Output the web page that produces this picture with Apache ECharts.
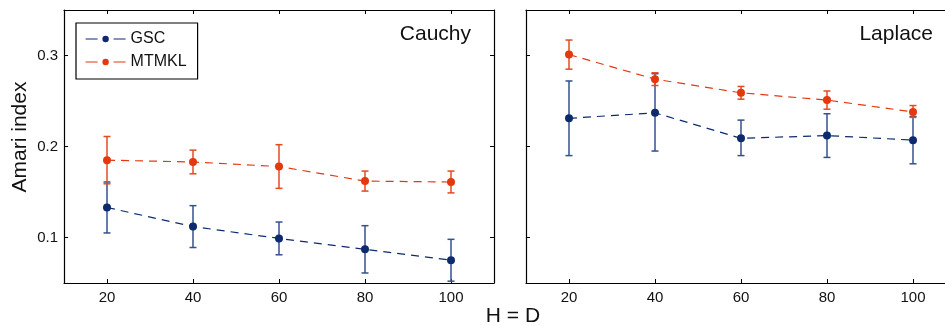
<!DOCTYPE html>
<html>
<head>
<meta charset="utf-8">
<script src="https://cdn.jsdelivr.net/npm/echarts@6/dist/echarts.min.js"></script>
<style>html,body{margin:0;padding:0;background:#fff}#c{width:945px;height:326px}</style>
</head>
<body>
<div id="c"></div>
<script>
const xValues = [20, 40, 60, 80, 100];
const yTicks = [0.1, 0.2, 0.3];
const panelTitles = ['Cauchy', 'Laplace'];
const seriesNames = ['GSC', 'MTMKL'];
const yAxisTitle = 'Amari index';
const xAxisTitle = 'H = D';

// Cauchy
const cauchyGSC = [0.133, 0.112, 0.099, 0.087, 0.075];
const cauchyGSCLow = [0.105, 0.089, 0.081, 0.061, 0.052];
const cauchyGSCHigh = [0.161, 0.135, 0.117, 0.113, 0.098];
const cauchyMTMKL = [0.185, 0.183, 0.178, 0.162, 0.161];
const cauchyMTMKLLow = [0.159, 0.170, 0.154, 0.151, 0.149];
const cauchyMTMKLHigh = [0.211, 0.196, 0.202, 0.173, 0.173];

// Laplace
const laplaceGSC = [0.231, 0.237, 0.209, 0.212, 0.207];
const laplaceGSCLow = [0.190, 0.195, 0.190, 0.188, 0.181];
const laplaceGSCHigh = [0.272, 0.280, 0.229, 0.236, 0.233];
const laplaceMTMKL = [0.301, 0.274, 0.259, 0.251, 0.238];
const laplaceMTMKLLow = [0.285, 0.267, 0.252, 0.241, 0.232];
const laplaceMTMKLHigh = [0.317, 0.281, 0.266, 0.261, 0.245];

const BLUE = '#0d2a6e';
const BLUE_BAR = '#34508f';
const RED = '#e4380e';
const RED_BAR = '#e34b22';
const FONT = 'Liberation Sans';

const chart = echarts.init(document.getElementById('c'));

const grids = [
  {left: 64, top: 10, width: 430, height: 273, outerBoundsMode: 'none', containLabel: false},
  {left: 526, top: 10, width: 430, height: 273, outerBoundsMode: 'none', containLabel: false}
];

function xAx(gi, pos) {
  const bottom = pos === 'bottom';
  return {
    type: 'value', gridIndex: gi, position: pos, min: 10, max: 110, interval: 20,
    axisLine: {show: true, onZero: false, lineStyle: {color: '#000', width: 1.2}},
    axisTick: {show: true, inside: true, length: 4, lineStyle: {color: '#000'},
      customValues: xValues},
    axisLabel: {show: bottom, color: '#111', fontSize: 15, fontFamily: FONT, margin: 7,
      customValues: xValues},
    splitLine: {show: false}
  };
}
function yAx(gi, pos, labels) {
  return {
    type: 'value', gridIndex: gi, position: pos, min: 0.05, max: 0.35,
    axisLine: {show: true, onZero: false, lineStyle: {color: '#000', width: 1.2}},
    axisTick: {show: true, inside: true, length: 4, lineStyle: {color: '#000'},
      customValues: yTicks},
    axisLabel: {show: labels, color: '#111', fontSize: 15, fontFamily: FONT, margin: 6,
      customValues: yTicks, formatter: v => v.toFixed(1)},
    splitLine: {show: false}
  };
}

const xAxes = [xAx(0, 'bottom'), xAx(0, 'top'), xAx(1, 'bottom'), xAx(1, 'top')];
const yAxes = [yAx(0, 'left', true), yAx(0, 'right', false), yAx(1, 'left', false), yAx(1, 'right', false)];

function lineSeries(name, vals, color, xi, yi) {
  return {
    type: 'line', name: name, xAxisIndex: xi, yAxisIndex: yi,
    data: xValues.map((x, i) => [x, vals[i]]),
    symbol: 'circle', symbolSize: 8,
    lineStyle: {color: color, width: 1.2, type: [8, 6]},
    itemStyle: {color: color},
    z: 3
  };
}
function errSeries(name, low, high, color, xi, yi) {
  return {
    type: 'custom', name: name + '_err', xAxisIndex: xi, yAxisIndex: yi,
    data: xValues.map((x, i) => [x, low[i], high[i]]),
    renderItem: function (params, api) {
      const p1 = api.coord([api.value(0), api.value(1)]);
      const p2 = api.coord([api.value(0), api.value(2)]);
      const w = 3.5;
      const st = {stroke: color, lineWidth: 1.5};
      return {type: 'group', children: [
        {type: 'line', shape: {x1: p1[0], y1: p1[1], x2: p2[0], y2: p2[1]}, style: st},
        {type: 'line', shape: {x1: p1[0] - w, y1: p1[1], x2: p1[0] + w, y2: p1[1]}, style: st},
        {type: 'line', shape: {x1: p2[0] - w, y1: p2[1], x2: p2[0] + w, y2: p2[1]}, style: st}
      ]};
    },
    z: 2, silent: true
  };
}

const series = [
  errSeries('GSC', cauchyGSCLow, cauchyGSCHigh, BLUE_BAR, 0, 0),
  errSeries('MTMKL', cauchyMTMKLLow, cauchyMTMKLHigh, RED_BAR, 0, 0),
  lineSeries(seriesNames[0], cauchyGSC, BLUE, 0, 0),
  lineSeries(seriesNames[1], cauchyMTMKL, RED, 0, 0),
  errSeries('GSC', laplaceGSCLow, laplaceGSCHigh, BLUE_BAR, 2, 2),
  errSeries('MTMKL', laplaceMTMKLLow, laplaceMTMKLHigh, RED_BAR, 2, 2),
  lineSeries(seriesNames[0] + ' ', laplaceGSC, BLUE, 2, 2),
  lineSeries(seriesNames[1] + ' ', laplaceMTMKL, RED, 2, 2)
];

chart.setOption({
  animation: false,
  backgroundColor: '#fff',
  grid: grids,
  xAxis: xAxes,
  yAxis: yAxes,
  legend: {
    data: seriesNames.map(n => ({name: n, lineStyle: {type: [12, 16], width: 1.2}})),
    orient: 'vertical', left: 76, top: 23,
    padding: [8, 11, 9, 9],
    backgroundColor: '#fff', borderColor: '#000', borderWidth: 1.2,
    itemWidth: 40, itemHeight: 8, itemGap: 7,
    lineStyle: {type: [12, 16], width: 1.2},
    textStyle: {fontSize: 16, fontFamily: FONT, color: '#111'}
  },
  title: [
    {text: panelTitles[0], right: 474, top: 24, padding: 0,
      textStyle: {fontSize: 21, fontWeight: 'normal', fontFamily: FONT, color: '#111'}},
    {text: panelTitles[1], right: 12, top: 24, padding: 0,
      textStyle: {fontSize: 21, fontWeight: 'normal', fontFamily: FONT, color: '#111'}}
  ],
  graphic: [
    {type: 'text', x: 513, y: 316, style: {text: xAxisTitle, fontSize: 21, fontFamily: FONT, fill: '#111', align: 'center', verticalAlign: 'middle'}},
    {type: 'text', x: 20, y: 137, rotation: Math.PI / 2, style: {text: yAxisTitle, fontSize: 21, fontFamily: FONT, fill: '#111', align: 'center', verticalAlign: 'middle'}}
  ],
  series: series
});
</script>
</body>
</html>
